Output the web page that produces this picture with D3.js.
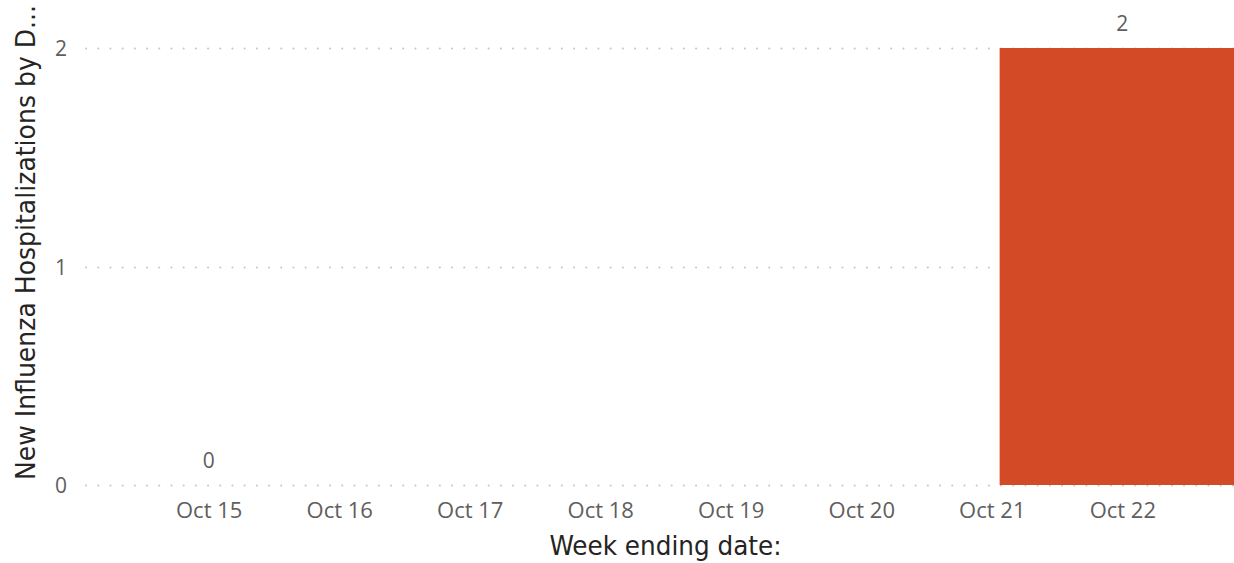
<!DOCTYPE html>
<html>
<head>
<meta charset="utf-8">
<script src="https://cdn.jsdelivr.net/npm/d3@7"></script>
<style>
  html, body { margin: 0; padding: 0; background: #fff; overflow: hidden; }
  svg { display: block; }
</style>
</head>
<body>
<svg id="chart" width="1234" height="563"></svg>
<script>
// ---- data ----
const weekEnding = ["2022-10-15", "2022-10-22"];
const hospitalizations = [0, 2];
const yTicks = [0, 1, 2];
const xTitle = "Week ending date:";
const yTitle = "New Influenza Hospitalizations by D...";

// ---- layout / style ----
const W = 1234, H = 563;
const plotLeft = 86, plotRight = 1245, plotTop = 48, plotBottom = 485;
const halfBarDays = 0.94;
const barColor = "#D34A27";
const gridColor = "#C8C6C4";
const tickColor = "#605E5C";
const titleColor = "#252423";
const DAY = 86400000;

const parse = d3.timeParse("%Y-%m-%d");
const data = weekEnding.map((d, i) => ({ date: parse(d), value: hospitalizations[i] }));

const x = d3.scaleTime()
  .domain([new Date(+data[0].date - halfBarDays * DAY), new Date(+data[data.length - 1].date + halfBarDays * DAY)])
  .range([plotLeft, plotRight]);
const y = d3.scaleLinear().domain([0, 2]).range([plotBottom, plotTop]);

const svg = d3.select("#chart");

// gridlines
const yAxis = d3.axisLeft(y).tickValues(yTicks).tickFormat(d3.format("d")).tickSize(0).tickPadding(19);
const gy = svg.append("g").attr("transform", `translate(${plotLeft},0)`).call(yAxis);
gy.select(".domain").remove();
gy.selectAll("text")
  .attr("fill", tickColor)
  .attr("font-family", "'Open Sans', 'Noto Sans', sans-serif")
  .attr("font-size", 21)
  .attr("dy", "0.36em");

svg.append("g").selectAll("line").data(yTicks).join("line")
  .attr("x1", plotLeft).attr("x2", plotRight)
  .attr("y1", d => Math.round(y(d)) + 0.5).attr("y2", d => Math.round(y(d)) + 0.5)
  .attr("stroke", gridColor)
  .attr("stroke-width", 2)
  .attr("stroke-linecap", "round")
  .attr("stroke-dasharray", "0.1,12.1");

// bars
svg.append("g").selectAll("rect").data(data).join("rect")
  .attr("x", d => x(new Date(+d.date - halfBarDays * DAY)))
  .attr("width", d => x(new Date(+d.date + halfBarDays * DAY)) - x(new Date(+d.date - halfBarDays * DAY)))
  .attr("y", d => y(d.value))
  .attr("height", d => y(0) - y(d.value))
  .attr("fill", barColor);

// data labels
svg.append("g").selectAll("text").data(data).join("text")
  .attr("x", d => x(d.date))
  .attr("y", d => y(d.value) - 17)
  .attr("text-anchor", "middle")
  .attr("fill", tickColor)
  .attr("font-family", "'Open Sans', 'Noto Sans', sans-serif")
  .attr("font-size", 21)
  .text(d => d.value);

// x axis
const xAxis = d3.axisBottom(x)
  .ticks(d3.timeDay.every(1))
  .tickFormat(d3.timeFormat("%b %d"))
  .tickSize(0)
  .tickPadding(0);
const gx = svg.append("g").attr("transform", `translate(0,${plotBottom})`).call(xAxis);
gx.select(".domain").remove();
gx.selectAll("text")
  .attr("fill", tickColor)
  .attr("font-family", "'Open Sans', 'Noto Sans', sans-serif")
  .attr("font-size", 22)
  .attr("dy", null)
  .attr("y", 33);

// axis titles
svg.append("text")
  .attr("x", (plotLeft + plotRight) / 2)
  .attr("y", 555)
  .attr("text-anchor", "middle")
  .attr("fill", titleColor)
  .attr("font-family", "'DejaVu Sans Condensed', 'DejaVu Sans', sans-serif")
  .attr("font-size", 27)
  .attr("textLength", 232)
  .attr("lengthAdjust", "spacingAndGlyphs")
  .text(xTitle);

svg.append("text")
  .attr("transform", "translate(35,480) rotate(-90)")
  .attr("text-anchor", "start")
  .attr("fill", titleColor)
  .attr("font-family", "'DejaVu Sans Condensed', 'DejaVu Sans', sans-serif")
  .attr("font-size", 27)
  .attr("textLength", 475)
  .attr("lengthAdjust", "spacingAndGlyphs")
  .text(yTitle);
</script>
</body>
</html>
